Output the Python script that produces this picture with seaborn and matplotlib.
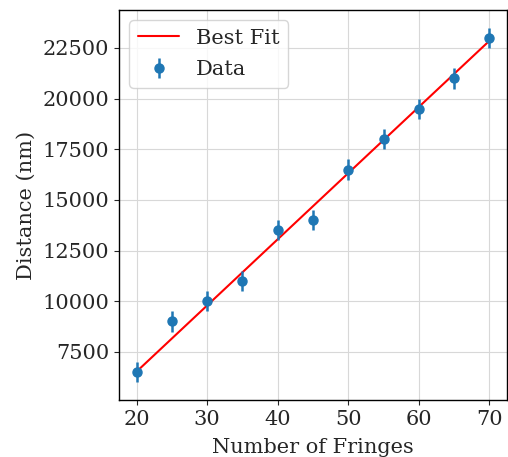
import numpy as np
import pandas as pd
import matplotlib
matplotlib.use("Agg")
import matplotlib.pyplot as plt
import seaborn as sns

fringes = [20, 25, 30, 35, 40, 45, 50, 55, 60, 65, 70]
distance = [6500, 9000, 10000, 11000, 13500, 14000, 16500, 18000, 19500, 21000, 23000]
err = [500] * len(fringes)

sns.set_style("ticks")
plt.rcParams['font.family'] = ['DejaVu Serif']
plt.rcParams['font.size'] = 15

df = pd.DataFrame({"x": fringes, "y": distance})
x = np.array(fringes, dtype=float)
y = np.array(distance, dtype=float)
slope = np.sum(x * y) / np.sum(x * x)
fit = pd.DataFrame({"x": x, "y": slope * x})

fig = plt.figure(figsize=(5.08, 4.57), dpi=100)
ax = fig.add_axes([119/508, 1 - 400/457, (507-119)/508, (400-10)/457])

sns.lineplot(data=fit, x="x", y="y", color="red", ax=ax, label="Best Fit", zorder=3, linewidth=1.5)
ax.errorbar(fringes, distance, yerr=err, fmt="o", color="#1f77b4", ms=6.5,
            elinewidth=1.8, label="Data", zorder=4)

ax.grid(True, color="#d8d8d8", linewidth=0.8)
ax.set_axisbelow(True)
for s in ax.spines.values():
    s.set_color("black")
    s.set_linewidth(1.0)
ax.set_xlabel("Number of Fringes", fontsize=15, labelpad=6.5)
ax.set_ylabel("Distance (nm)", fontsize=15, labelpad=4.5)
ax.tick_params(labelsize=15)
ax.legend(loc="upper left", fontsize=15, labelspacing=0.6, borderpad=0.4)

fig.savefig("out.png", dpi=100)
